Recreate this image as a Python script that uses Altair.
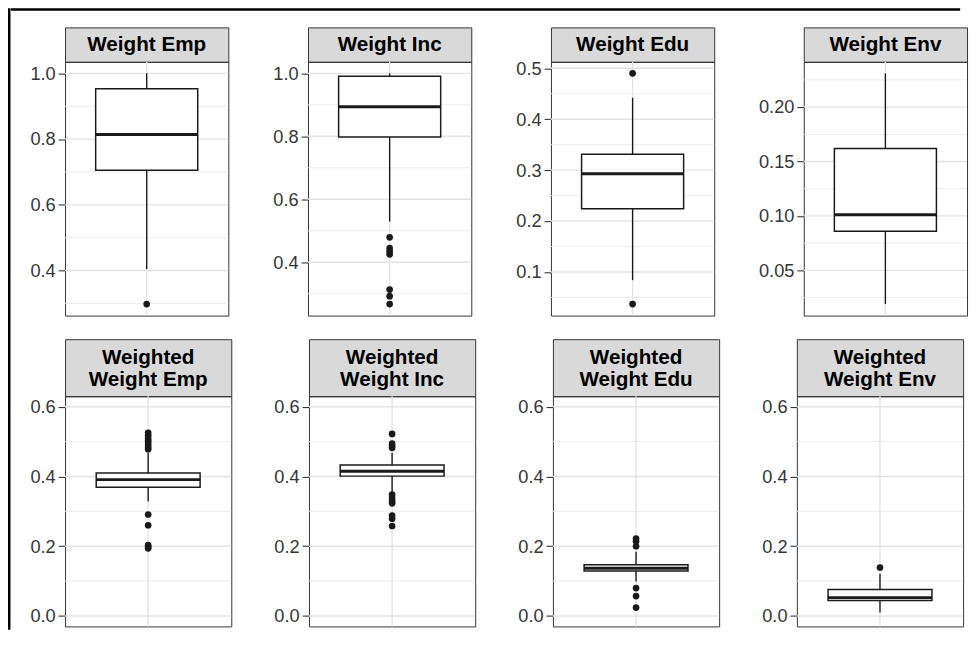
import altair as alt
import pandas as pd

FONT = "Liberation Sans, Arial, Helvetica, sans-serif"
INK = "#1a1a1a"

# ---- data -------------------------------------------------------------------
titles = ["Weight Emp", "Weight Inc", "Weight Edu", "Weight Env",
          "Weighted\nWeight Emp", "Weighted\nWeight Inc",
          "Weighted\nWeight Edu", "Weighted\nWeight Env"]
whisker_low = [0.405, 0.529, 0.084, 0.019, 0.328, 0.356, 0.099, 0.010]
q1 = [0.705, 0.798, 0.224, 0.086, 0.369, 0.401, 0.129, 0.044]
median = [0.814, 0.894, 0.293, 0.101, 0.391, 0.415, 0.137, 0.052]
q3 = [0.953, 0.991, 0.331, 0.162, 0.410, 0.433, 0.147, 0.076]
whisker_high = [1.000, 1.000, 0.442, 0.231, 0.468, 0.468, 0.184, 0.121]
outliers = [
    [0.298],
    [0.479, 0.445, 0.435, 0.425, 0.313, 0.292, 0.267],
    [0.490, 0.037],
    [],
    [0.525, 0.518, 0.510, 0.503, 0.497, 0.490, 0.483, 0.478,
     0.291, 0.260, 0.203, 0.198, 0.194],
    [0.522, 0.494, 0.488, 0.482, 0.348, 0.338, 0.330, 0.323,
     0.288, 0.279, 0.258],
    [0.222, 0.214, 0.200, 0.080, 0.057, 0.024],
    [0.139],
]
major_ticks = [
    [0.4, 0.6, 0.8, 1.0],
    [0.4, 0.6, 0.8, 1.0],
    [0.1, 0.2, 0.3, 0.4, 0.5],
    [0.05, 0.10, 0.15, 0.20],
    [0.0, 0.2, 0.4, 0.6],
    [0.0, 0.2, 0.4, 0.6],
    [0.0, 0.2, 0.4, 0.6],
    [0.0, 0.2, 0.4, 0.6],
]
minor_ticks = [
    [0.3, 0.5, 0.7, 0.9],
    [0.3, 0.5, 0.7, 0.9],
    [0.05, 0.15, 0.25, 0.35, 0.45],
    [0.025, 0.075, 0.125, 0.175, 0.225],
    [0.1, 0.3, 0.5],
    [0.1, 0.3, 0.5],
    [0.1, 0.3, 0.5],
    [0.1, 0.3, 0.5],
]
tick_formats = [".1f", ".1f", ".1f", ".2f", ".1f", ".1f", ".1f", ".1f"]
row2_limits = [0.0, 0.6]


def domain_for(i):
    if i < 4:
        vals = [whisker_low[i], whisker_high[i]] + outliers[i]
        lo, hi = min(vals), max(vals)
    else:
        lo, hi = row2_limits
    pad = (hi - lo) * 0.05
    return [lo - pad, hi + pad]


def panel(i, w, h):
    box = pd.DataFrame({"pos": [1], "wlo": [whisker_low[i]], "q1": [q1[i]],
                        "med": [median[i]], "q3": [q3[i]], "whi": [whisker_high[i]]})
    out = pd.DataFrame({"pos": [1] * len(outliers[i]), "v": outliers[i]})
    yscale = alt.Scale(domain=domain_for(i), nice=False, zero=False)
    yaxis = alt.Axis(values=major_ticks[i], format=tick_formats[i], title=None,
                     grid=False, domain=False, tickColor="#333333", tickSize=7,
                     tickWidth=1.1, labelFontSize=18.5, labelColor="#363636",
                     labelFont=FONT, labelPadding=3)
    xscale = alt.Scale(domain=[0.4, 1.6], nice=False, zero=False)

    def Y(f):
        return alt.Y(f, type="quantitative", scale=yscale, axis=yaxis)

    X = alt.X("pos:Q", scale=xscale, axis=None)
    XL = alt.X("left:Q", scale=xscale, axis=None)

    minor = alt.Chart(pd.DataFrame({"v": minor_ticks[i]})).mark_rule(
        color="#ebebeb", strokeWidth=0.9).encode(y=Y("v"))
    major = alt.Chart(pd.DataFrame({"v": major_ticks[i]})).mark_rule(
        color="#e4e4e4", strokeWidth=1.4).encode(y=Y("v"))
    vgrid = alt.Chart(box).mark_rule(color="#e4e4e4", strokeWidth=1.4).encode(x=X)
    base = alt.Chart(box).transform_calculate(
        left="datum.pos - 0.375", right="datum.pos + 0.375")
    whisk = base.mark_rule(color=INK, strokeWidth=1.4).encode(
        x=X, y=Y("wlo"), y2=alt.Y2("whi"))
    rect = base.mark_rect(fill="white", stroke=INK, strokeWidth=1.5).encode(
        x=XL, x2=alt.X2("right"), y=Y("q1"), y2=alt.Y2("q3"))
    med = base.mark_rule(color=INK, strokeWidth=3).encode(
        x=XL, x2=alt.X2("right"), y=Y("med"))
    layers = [minor, major, vgrid, whisk, rect, med]
    if len(out):
        layers.append(alt.Chart(out).mark_circle(size=46, color=INK, opacity=1).encode(
            x=X, y=Y("v")))
    return alt.layer(*layers).properties(width=w, height=h)


def strip(i, w, h):
    nlines = titles[i].count("\n") + 1
    return alt.Chart(pd.DataFrame({"label": [titles[i]]})).mark_text(
        font=FONT, fontSize=21, fontWeight="bold", color="black",
        lineBreak="\n", lineHeight=22.5, dy=-(nlines - 1) * 11.25 + 1).encode(
        text="label:N").properties(
        width=w, height=h,
        view=alt.ViewBackground(fill="#d9d9d9", stroke="#333333", strokeWidth=1))


def column(i, w, sh, ph):
    return alt.vconcat(strip(i, w, sh), panel(i, w, ph), spacing=0, bounds="flush")


row1 = alt.hconcat(*[column(i, 166, 35, 258) for i in range(4)], spacing=42)
row2 = alt.hconcat(*[column(i, 169, 58, 234) for i in range(4, 8)], spacing=40)
rows = alt.vconcat(row1, row2, spacing=21)


def blank(w, h, fill):
    return alt.Chart(pd.DataFrame({"a": [0]})).mark_point(
        opacity=0, size=0, strokeWidth=0).properties(
        width=w, height=h,
        view=alt.ViewBackground(fill=fill, stroke="transparent", strokeWidth=0))


spacer = blank(1, 1, "transparent")
content = alt.hconcat(spacer, rows, spacing=17)
topbar = blank(965, 2.5, "black")
leftbar = blank(2.5, 632, "black")
right = alt.vconcat(topbar, content, spacing=15.5)

chart = alt.hconcat(leftbar, right, spacing=0).properties(
    padding={"left": 0, "top": -5, "right": 0, "bottom": 0}, background="white"
).configure_view(stroke="#333333", strokeWidth=1)

chart.save("out.html", embed_options={"renderer": "svg", "actions": False})
